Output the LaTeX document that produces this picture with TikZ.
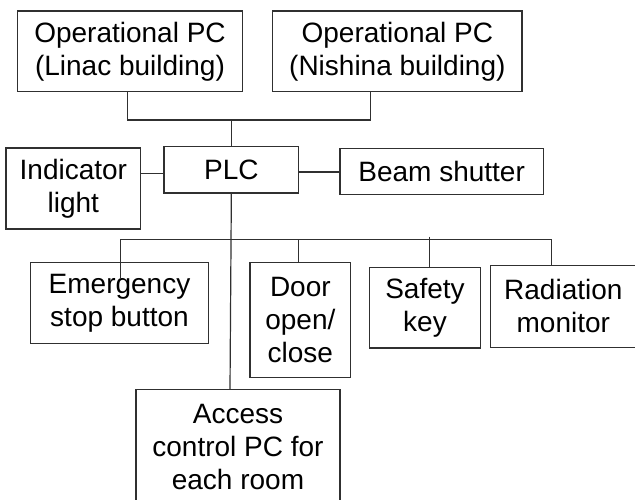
\documentclass[tikz,border=0pt]{standalone}
\usepackage{fontspec}
\setmainfont{Liberation Sans}
\definecolor{linec}{HTML}{303030}
\begin{document}
\begin{tikzpicture}[x=1pt,y=-1pt,
  box/.style={draw=linec, line width=1.2pt, inner sep=0pt, align=center,
    font=\fontsize{28}{33}\selectfont, text=black},
  conn/.style={draw=linec, line width=1.2pt}]
\useasboundingbox (0,0) rectangle (635,500);
% nodes
\node[box, minimum width=224.6pt, minimum height=80.7pt] (linac) at (130,51.35) {Operational PC\\(Linac building)};
\node[box, minimum width=249.3pt, minimum height=80.7pt] (nishina) at (397.35,51.35) {Operational PC\\(Nishina building)};
\node[box, minimum width=134.7pt, minimum height=46.3pt] (plc) at (231.35,169.85) {PLC};
\node[box, minimum width=134.7pt, minimum height=81pt] (ind) at (73.35,188.5) {Indicator\\light};
\node[box, minimum width=203.3pt, minimum height=46pt] (beam) at (441.65,171.3) {Beam shutter};
\node[box, minimum width=177.6pt, minimum height=80.6pt] (emerg) at (119.5,303) {Emergency\\stop button};
\node[box, minimum width=100.7pt, minimum height=114.6pt] (door) at (300.35,320) {Door\\open/\\close};
\node[box, minimum width=111.4pt, minimum height=80.7pt] (safety) at (425,307.65) {Safety\\key};
\node[box, draw=none, minimum width=145.3pt, minimum height=80.7pt] (rad) at (563.35,306.35) {Radiation\\monitor};
\draw[conn] ([xshift=10pt]rad.north east) -- (rad.north west) -- (rad.south west) -- ([xshift=10pt]rad.south east);
\node[box, minimum width=204pt, minimum height=116pt] (access) at (238,447.3) {Access\\control PC for\\each room};
% junction coordinates
\coordinate (lbot) at (127.7,120);
\coordinate (j1) at (231.7,120);
\coordinate (nbot) at (370.7,120);
\coordinate (il) at (140.7,173.7);
\coordinate (br) at (298.7,172);
\coordinate (busL) at (120.7,239.3);
\coordinate (busR) at (551.7,239.3);
\coordinate (estub) at (120.7,278.3);
\coordinate (dtop) at (298.7,239.3);
\coordinate (stop) at (429.7,236.7);
\coordinate (atop) at (230,389.3);
% connectors
\draw[conn] (lbot |- linac.south) -- (lbot) -- (nbot) -- (nbot |- nishina.south);
\draw[conn] (j1) -- (j1 |- plc.north);
\draw[conn] (il) -- (il -| plc.west);
\draw[conn] (br) -- (br -| beam.west);
\draw[conn] (plc.south) -- (atop);
\draw[conn] (busL) -- (busR);
\draw[conn] (busL) -- (estub);
\draw[conn] (dtop) -- (dtop |- door.north);
\draw[conn] (stop) -- (stop |- safety.north);
\draw[conn] (busR) -- (busR |- rad.north);
\end{tikzpicture}
\end{document}
